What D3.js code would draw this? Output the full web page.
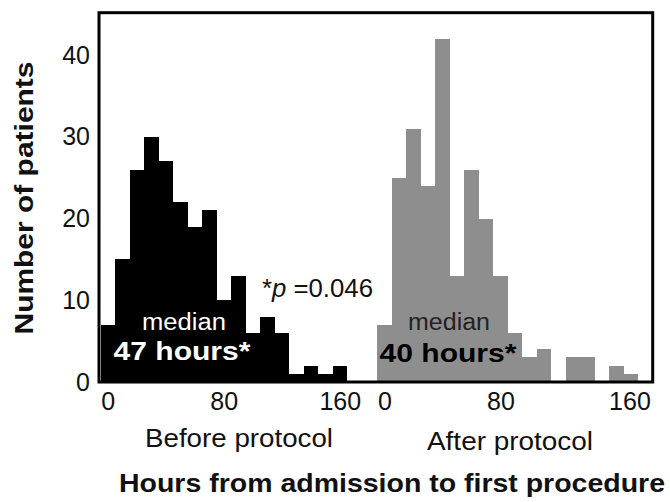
<!DOCTYPE html>
<html>
<head>
<meta charset="utf-8">
<script src="https://cdn.jsdelivr.net/npm/d3@7"></script>
<style>
  body { margin: 0; background: #fff; }
  text { font-family: "Liberation Sans", Arial, Helvetica, sans-serif; }
</style>
</head>
<body>
<div id="chart"></div>
<script>
// histogram bins, 10 hours wide, centred on the label value
var binHours = d3.range(0, 190, 10);
var beforeCounts = [7, 15, 26, 30, 27, 22, 19, 21, 10, 13, 6, 8, 6, 1, 2, 1, 2, 0, 0];
var afterCounts = [7, 25, 31, 24, 42, 13, 26, 20, 13, 6, 3, 4, 0, 3, 3, 0, 2, 1, 0];
var xTicks = [0, 80, 160];
var yTicks = [0, 10, 20, 30, 40];

(function () {
    var width = 670;
    var height = 502;

    var svg = d3.select("#chart").append("svg")
        .attr("width", width).attr("height", height);

    var y = d3.scaleLinear().domain([0, 45.2]).range([382, 12.7]);
    var xBefore = d3.scaleLinear().domain([-5, 185]).range([100.5, 376]);
    var xAfter = d3.scaleLinear().domain([-5, 185]).range([377.2, 652.7]);

    function drawBars(xs, counts, colour) {
        svg.append("g").selectAll("rect")
            .data(binHours.map(function (h, i) { return { h: h, n: counts[i] }; }))
            .join("rect")
            .attr("x", function (d) { return xs(d.h - 5); })
            .attr("width", function (d) { return xs(d.h + 5) - xs(d.h - 5); })
            .attr("y", function (d) { return y(d.n); })
            .attr("height", function (d) { return y(0) - y(d.n); })
            .attr("fill", colour)
            .attr("shape-rendering", "crispEdges");
    }
    drawBars(xBefore, beforeCounts, "#000");
    drawBars(xAfter, afterCounts, "#8e8e8e");

    // frame
    svg.append("rect")
        .attr("x", 99).attr("y", 12.7)
        .attr("width", 553.7).attr("height", 369.3)
        .attr("fill", "none").attr("stroke", "#000").attr("stroke-width", 3);

    function styleAxis(g) {
        g.select(".domain").remove();
        g.attr("font-size", 25).attr("font-family", null);
        g.selectAll("text").attr("fill", "#111");
    }

    svg.append("g").attr("transform", "translate(0,382)")
        .call(d3.axisBottom(xBefore).tickValues(xTicks).tickSize(0).tickPadding(10))
        .call(styleAxis);

    var afterAxis = svg.append("g").attr("transform", "translate(0,382)")
        .call(d3.axisBottom(xAfter).tickValues(xTicks).tickSize(0).tickPadding(10))
        .call(styleAxis);
    afterAxis.selectAll(".tick text").filter(function (d) { return d === 160; }).attr("dx", 13);

    svg.append("g").attr("transform", "translate(99,0)")
        .call(d3.axisLeft(y).tickValues(yTicks).tickSize(0).tickPadding(9))
        .call(styleAxis);

    function label(x, yy, txt, opts) {
        var t = svg.append("text")
            .attr("x", x).attr("y", yy)
            .attr("text-anchor", opts.anchor || "middle")
            .attr("font-size", opts.size || 25)
            .attr("font-weight", opts.bold ? "bold" : "normal")
            .attr("fill", opts.fill || "#111")
            .text(txt);
        if (opts.len) t.attr("textLength", opts.len).attr("lengthAdjust", "spacingAndGlyphs");
        return t;
    }

    // y axis title
    svg.append("text")
        .attr("transform", "translate(33,198) rotate(-90)")
        .attr("text-anchor", "middle")
        .attr("font-size", 26).attr("font-weight", "bold").attr("fill", "#111")
        .attr("textLength", 273).attr("lengthAdjust", "spacingAndGlyphs")
        .text("Number of patients");

    label(239, 447, "Before protocol", { len: 188 });
    label(510, 450, "After protocol", { len: 166 });
    label(119, 492, "Hours from admission to first procedure",
        { anchor: "start", bold: true, size: 26, len: 546 });

    label(184, 330, "median", { size: 23, fill: "#fff", len: 84 });
    label(182, 360, "47 hours*", { bold: true, fill: "#fff", len: 137 });
    label(449, 330, "median", { size: 23, fill: "#222", len: 82 });
    label(448, 361.5, "40 hours*", { bold: true, fill: "#000", len: 137 });

    var p = svg.append("text")
        .attr("x", 262).attr("y", 297)
        .attr("font-size", 25).attr("fill", "#111")
        .attr("textLength", 111).attr("lengthAdjust", "spacingAndGlyphs");
    p.append("tspan").text("*");
    p.append("tspan").attr("font-style", "italic").text("p");
    p.append("tspan").text(" =0.046");
})();
</script>
</body>
</html>
